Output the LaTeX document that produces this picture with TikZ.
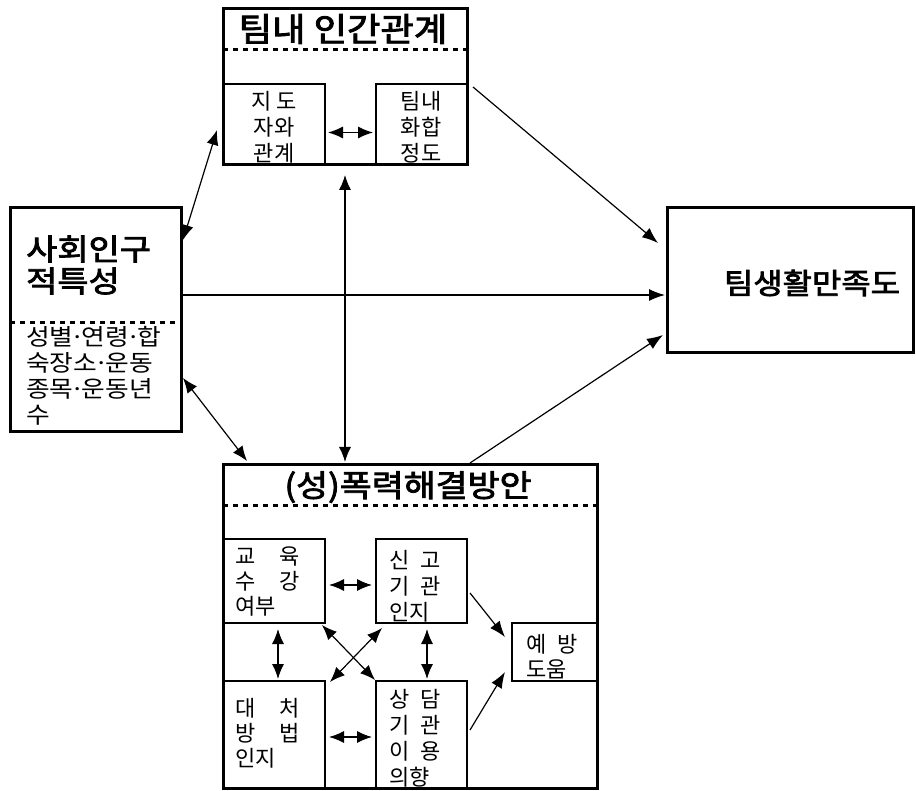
\documentclass[tikz,border=0pt]{standalone}
\usepackage{fontspec}
\usetikzlibrary{arrows.meta}
\newfontfamily\kr{Noto Sans CJK KR}
\newfontfamily\krb[FakeBold=2.5]{Noto Sans CJK KR}
\newcommand{\md}{\kern-0.12em·\kern-0.12em}
\begin{document}
\begin{tikzpicture}[x=1pt,y=-1pt,
  outerbox/.style={draw,line width=3pt,anchor=north west,inner sep=0pt,outer sep=0pt},
  innerbox/.style={draw,line width=1.5pt,anchor=north west,inner sep=0pt,outer sep=0pt},
  dotline/.style={line width=3pt,dash pattern=on 5pt off 5pt},
  arr/.style={line width=1.2pt,-{Latex[length=16pt,width=12pt]}},
  dbl/.style={line width=1.2pt,{Latex[length=15pt,width=12pt]}-{Latex[length=15pt,width=12pt]}},
  txt/.style={inner sep=0pt,font=\kr}
]
\useasboundingbox (0,0) rectangle (916,791);
% boxes
\node[outerbox,minimum width=244pt,minimum height=156pt] (T) at (223,9) {};
\node[innerbox,minimum width=102pt,minimum height=81pt] (T1) at (223,84) {};
\node[innerbox,minimum width=91pt,minimum height=81pt] (T2) at (376,84) {};
\node[outerbox,minimum width=171pt,minimum height=224pt] (S) at (10,208) {};
\node[outerbox,minimum width=246pt,minimum height=145pt] (R) at (667,208) {};
\node[outerbox,minimum width=374pt,minimum height=323pt] (B) at (223,465) {};
\node[innerbox,minimum width=102pt,minimum height=84pt] (B1) at (223,539) {};
\node[innerbox,minimum width=91pt,minimum height=84pt] (B2) at (376,539) {};
\node[innerbox,minimum width=102pt,minimum height=107pt] (B3) at (223,681) {};
\node[innerbox,minimum width=91pt,minimum height=107pt] (B4) at (376,681) {};
\node[innerbox,minimum width=85pt,minimum height=58pt] (B5) at (512,623) {};
\draw[line width=3pt] (T.north west) rectangle (T.south east);
\draw[line width=3pt] (B.north west) rectangle (B.south east);
% dotted separators
\draw[dotline] ([shift={(0,41)}]T.north west) -- ([shift={(0,41)}]T.north east);
\draw[dotline] ([shift={(0,115)}]S.north west) -- ([shift={(0,115)}]S.north east);
\draw[dotline] ([shift={(0,40)}]B.north west) -- ([shift={(0,40)}]B.north east);
% texts
\node[txt,xscale=1.1,font=\krb\fontsize{33}{34}\selectfont] (tT) at (343,29) {팀내 인간관계};
\node[txt,align=center,font=\kr\fontsize{22}{26}\selectfont] (tT1) at (274,127) {지 도\\자와\\관계};
\node[txt,align=center,font=\kr\fontsize{22}{26}\selectfont] (tT2) at (421,127) {팀내\\화합\\정도};
\node[txt,anchor=west,align=left,xscale=1.13,font=\krb\fontsize{30}{32}\selectfont] (tS) at (26,265) {사회인구\\적특성};
\node[txt,anchor=west,align=left,xscale=1.12,font=\kr\fontsize{23}{26}\selectfont] (tS2) at (26,376) {성별\md 연령\md 합\\숙장소\md 운동\\종목\md 운동년\\수};
\node[txt,xscale=1.1,font=\krb\fontsize{29}{32}\selectfont] (tR) at (812,283) {팀생활만족도};
\node[txt,xscale=1.12,font=\krb\fontsize{31}{34}\selectfont] (tB) at (408,487) {(성)폭력해결방안};
\node[txt,anchor=west,align=left,font=\kr\fontsize{22}{25}\selectfont] (tB1) at (235,582) {교\hspace{1.1em}육\\수\hspace{1.1em}강\\여부};
\node[txt,anchor=west,align=left,font=\kr\fontsize{22}{26}\selectfont] (tB2) at (389,586) {신\hspace{0.5em}고\\기\hspace{0.5em}관\\인지};
\node[txt,anchor=west,align=left,font=\kr\fontsize{22}{25}\selectfont] (tB3) at (235,733) {대\hspace{1.1em}처\\방\hspace{1.1em}법\\인지};
\node[txt,anchor=west,align=left,font=\kr\fontsize{22}{26}\selectfont] (tB4) at (389,738) {상\hspace{0.5em}담\\기\hspace{0.5em}관\\이\hspace{0.5em}용\\의향};
\node[txt,anchor=west,align=left,font=\kr\fontsize{22}{25}\selectfont] (tB5) at (526,657) {예\hspace{0.5em}방\\도움};
% connectors
\draw[dbl] ([shift={(2,32)}]S.north east) -- ([shift={(-6,46)}]T1.north west);
\draw[dbl] ([shift={(2,-54)}]S.south east) -- ([shift={(24,-4)}]B.north west);
\draw[arr] ([shift={(2,-25)}]S.east) -- ([shift={(-2,14.5)}]R.west);
\draw[dbl] ([shift={(0,10)}]T.south) -- ([shift={(122,-3)}]B.north west);
\draw[arr] ([shift={(6,3)}]T2.north east) -- ([shift={(-9,35)}]R.north west);
\draw[arr] ([shift={(-127,-2)}]B.north east) -- ([shift={(-4,-18)}]R.south west);
\draw[dbl] ([shift={(3,8)}]T1.east) -- ([shift={(-3,8)}]T2.west);
\draw[dbl] ([shift={(4,4)}]B1.east) -- ([shift={(-4,4)}]B2.west);
\draw[dbl] ([shift={(4,2.5)}]B3.east) -- ([shift={(-4,2.5)}]B4.west);
\draw[dbl] ([shift={(4,6)}]B1.south) -- ([shift={(4,-2)}]B3.north);
\draw[dbl] ([shift={(5.5,6)}]B2.south) -- ([shift={(5.5,-2)}]B4.north);
\draw[dbl] ([shift={(-3,2)}]B1.south east) -- ([shift={(-1,-1)}]B4.north west);
\draw[dbl] ([shift={(6,5)}]B2.south west) -- ([shift={(5,1)}]B3.north east);
\draw[arr] ([shift={(3,12)}]B2.east) -- ([shift={(-7,-15)}]B5.west);
\draw[arr] ([shift={(3,-4.5)}]B4.east) -- ([shift={(-7,20)}]B5.west);
\end{tikzpicture}
\end{document}
